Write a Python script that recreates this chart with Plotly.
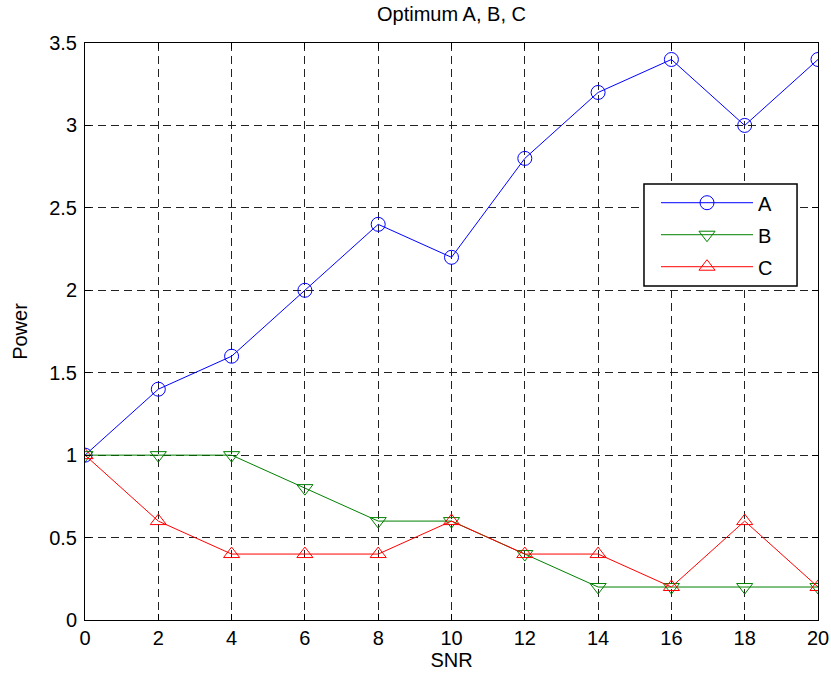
import plotly.graph_objects as go

snr = [0, 2, 4, 6, 8, 10, 12, 14, 16, 18, 20]
power_a = [1.0, 1.4, 1.6, 2.0, 2.4, 2.2, 2.8, 3.2, 3.4, 3.0, 3.4]
power_b = [1.0, 1.0, 1.0, 0.8, 0.6, 0.6, 0.4, 0.2, 0.2, 0.2, 0.2]
power_c = [1.0, 0.6, 0.4, 0.4, 0.4, 0.6, 0.4, 0.4, 0.2, 0.6, 0.2]
x_ticks = [0, 2, 4, 6, 8, 10, 12, 14, 16, 18, 20]
y_ticks = [0, 0.5, 1, 1.5, 2, 2.5, 3, 3.5]
y_tick_text = ["0", "0.5", "1", "1.5", "2", "2.5", "3", "3.5"]

FONT = "Liberation Sans, Arial, sans-serif"
FS = 20

fig = go.Figure()
series = [
    ("A", power_a, "#0000ff", "circle-open"),
    ("B", power_b, "#008000", "triangle-down-open"),
    ("C", power_c, "#ff0000", "triangle-up-open"),
]
for name, ys, col, sym in series:
    fig.add_trace(go.Scatter(
        x=snr, y=ys, name=name, mode="lines+markers", legendgroup=name,
        line=dict(color=col, width=1),
        marker=dict(symbol=sym, size=14, color=col, line=dict(color=col, width=1)),
    ))

axis_common = dict(
    showline=True, linecolor="black", linewidth=1, mirror="ticks",
    ticks="inside", ticklen=6, tickcolor="black",
    showgrid=True, gridcolor="#222222", gridwidth=1, griddash="8px,5px",
    zeroline=False, automargin=False,
    tickfont=dict(family=FONT, size=FS, color="black"),
)

# legend frame (white box with black border, drawn over the grid)
fig.add_shape(type="rect", xref="paper", yref="paper",
              x0=0.7626, x1=0.9714, y0=0.5789, y1=0.7556,
              fillcolor="white", line=dict(color="black", width=1.5), layer="above")

fig.update_layout(
    width=831, height=678,
    margin=dict(l=85, r=13, t=43, b=58),
    paper_bgcolor="white", plot_bgcolor="white",
    title=dict(text="Optimum A, B, C", xref="paper", x=0.5, xanchor="center",
               yref="container", y=0.99, yanchor="top",
               font=dict(family=FONT, size=FS, color="black")),
    xaxis=dict(range=[0, 20], tickvals=x_ticks, ticktext=[str(v) for v in x_ticks],
               title=dict(text="SNR", font=dict(family=FONT, size=FS, color="black"), standoff=4),
               **axis_common),
    yaxis=dict(range=[0, 3.5], tickvals=y_ticks, ticktext=y_tick_text, ticklabelstandoff=3,
               title=dict(text="Power", font=dict(family=FONT, size=FS, color="black"), standoff=16),
               **axis_common),
    legend=dict(x=0.7790, y=0.7570, xanchor="left", yanchor="top",
                bgcolor="rgba(0,0,0,0)", borderwidth=0,
                font=dict(family=FONT, size=FS, color="black"),
                itemwidth=92, tracegroupgap=3),
    showlegend=True,
)

fig.write_html("out.html")
